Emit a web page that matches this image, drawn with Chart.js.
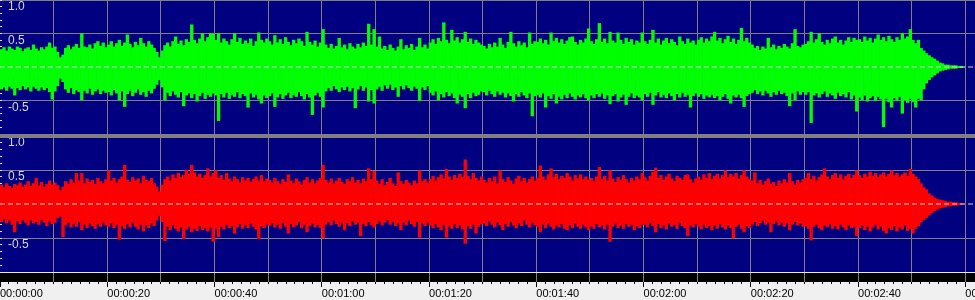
<!DOCTYPE html>
<html><head><meta charset="utf-8">
<script src="https://cdn.jsdelivr.net/npm/chart.js@4.4.1/dist/chart.umd.min.js"></script>
<style>
html,body{margin:0;padding:0;background:#f0f0f0;}
#wrap{position:relative;width:975px;height:300px;overflow:hidden;background:#f0f0f0;}
.panel{position:absolute;left:0;width:975px;background:#000080;}
#pTop{top:0;height:134px;}
#pBot{top:136px;height:136px;}
#sep{position:absolute;left:0;top:134px;width:975px;height:4px;background:#808080;}
#wline{position:absolute;left:0;top:272px;width:975px;height:1px;background:#e8e8e8;}
#pAxis{position:absolute;left:0;top:273px;width:975px;height:27px;}
canvas{display:block;}
</style></head><body>
<div id="wrap">
<div class="panel" id="pTop"><canvas id="cTop" width="975" height="134"></canvas></div>
<div class="panel" id="pBot"><canvas id="cBot" width="975" height="136"></canvas></div>
<div id="sep"></div>
<div id="wline"></div>
<div id="pAxis"><canvas id="cAxis" width="975" height="27"></canvas></div>
</div>
<script>
// ---- time axis ----
const TIME_MAX = 181.8;          // seconds shown across the view
const BIN = 0.5;                 // seconds per envelope column
const timeLabels = ['00:00:00','00:00:20','00:00:40','00:01:00','00:01:20','00:01:40','00:02:00','00:02:20','00:02:40','00:03:00'];
const ampTicks = [1, 0.5, 0, -0.5, -1];

// ---- channel 1 (green) envelope: peak max / min per 0.5 s column ----
const leftHi = [
0.26,0.29,0.24,0.30,0.27,0.25,0.30,0.28,0.23,0.27,0.29,0.25,0.33,0.27,0.24,0.29,0.26,0.30,0.36,0.28,
0.30,0.22,0.14,0.18,0.28,0.32,0.26,0.30,0.34,0.28,0.50,0.30,0.29,0.33,0.27,0.35,0.38,0.31,0.36,0.29,
0.33,0.38,0.30,0.35,0.40,0.31,0.36,0.48,0.34,0.29,0.37,0.32,0.43,0.35,0.30,0.38,0.33,0.28,0.22,0.14,
0.24,0.32,0.36,0.30,0.38,0.45,0.34,0.39,0.32,0.41,0.37,0.63,0.40,0.35,0.42,0.50,0.38,0.44,0.50,0.49,
0.40,0.50,0.36,0.42,0.38,0.33,0.41,0.50,0.37,0.43,0.34,0.39,0.35,0.42,0.31,0.38,0.51,0.40,0.36,0.42,
0.38,0.33,0.47,0.36,0.41,0.34,0.44,0.37,0.32,0.40,0.35,0.42,0.38,0.31,0.52,0.37,0.33,0.39,0.30,0.36,
0.56,0.33,0.28,0.34,0.27,0.31,0.43,0.29,0.33,0.26,0.35,0.30,0.27,0.34,0.29,0.36,0.31,0.64,0.33,0.56,
0.30,0.45,0.27,0.31,0.25,0.33,0.28,0.24,0.30,0.41,0.26,0.32,0.28,0.34,0.25,0.30,0.43,0.29,0.33,0.27,
0.36,0.41,0.34,0.43,0.38,0.66,0.40,0.35,0.55,0.39,0.44,0.36,0.41,0.52,0.37,0.42,0.34,0.40,0.36,0.33,
0.31,0.27,0.34,0.29,0.36,0.30,0.43,0.33,0.28,0.37,0.52,0.35,0.30,0.38,0.32,0.36,0.29,0.51,0.34,0.38,
0.37,0.42,0.35,0.40,0.33,0.51,0.38,0.43,0.36,0.41,0.34,0.39,0.44,0.45,0.37,0.33,0.40,0.36,0.42,0.57,
0.38,0.34,0.41,0.65,0.37,0.42,0.35,0.52,0.39,0.36,0.51,0.40,0.34,0.43,0.37,0.41,0.33,0.39,0.36,0.51,
0.38,0.34,0.40,0.55,0.36,0.42,0.33,0.39,0.43,0.35,0.41,0.37,0.32,0.45,0.38,0.34,0.42,0.36,0.39,0.33,
0.40,0.44,0.36,0.42,0.38,0.45,0.52,0.39,0.43,0.35,0.41,0.46,0.37,0.42,0.34,0.40,0.58,0.38,0.43,0.36,
0.33,0.28,0.31,0.25,0.30,0.27,0.43,0.29,0.33,0.26,0.31,0.28,0.34,0.30,0.27,0.35,0.56,0.31,0.29,0.33,
0.34,0.38,0.52,0.36,0.41,0.50,0.37,0.33,0.40,0.35,0.42,0.45,0.36,0.40,0.33,0.39,0.44,0.37,0.43,0.40,
0.41,0.37,0.45,0.39,0.43,0.36,0.42,0.48,0.40,0.44,0.38,0.46,0.41,0.37,0.44,0.40,0.50,0.42,0.45,0.56,
0.40,0.35,0.40,0.28,0.24,0.20,0.17,0.14,0.12,0.09,0.06,0.05,0.03,0.03,0.02,0.02,0.02,0.01,0.01,0.00];
const leftLo = [
-0.33,-0.30,-0.35,-0.29,-0.32,-0.42,-0.31,-0.34,-0.28,-0.33,-0.30,-0.36,-0.29,-0.32,-0.35,-0.30,-0.34,-0.31,-0.37,-0.48,
-0.36,-0.28,-0.17,-0.22,-0.33,-0.38,-0.31,-0.40,-0.34,-0.37,-0.49,-0.35,-0.39,-0.32,-0.41,-0.36,-0.33,-0.40,-0.35,-0.38,
-0.37,-0.42,-0.34,-0.39,-0.49,-0.36,-0.59,-0.40,-0.35,-0.43,-0.38,-0.33,-0.41,-0.37,-0.44,-0.35,-0.39,-0.32,-0.26,-0.19,
-0.30,-0.49,-0.38,-0.43,-0.36,-0.41,-0.45,-0.37,-0.58,-0.42,-0.39,-0.46,-0.40,-0.51,-0.43,-0.38,-0.47,-0.41,-0.44,-0.39,
-0.42,-0.80,-0.40,-0.45,-0.38,-0.47,-0.41,-0.44,-0.37,-0.46,-0.40,-0.43,-0.60,-0.39,-0.45,-0.41,-0.48,-0.54,-0.42,-0.46,
-0.43,-0.39,-0.59,-0.45,-0.40,-0.47,-0.42,-0.38,-0.46,-0.41,-0.44,-0.37,-0.43,-0.48,-0.40,-0.45,-0.71,-0.42,-0.38,-0.44,
-0.60,-0.36,-0.31,-0.35,-0.28,-0.33,-0.37,-0.30,-0.34,-0.29,-0.36,-0.31,-0.61,-0.33,-0.28,-0.35,-0.30,-0.51,-0.34,-0.54,
-0.33,-0.29,-0.35,-0.27,-0.32,-0.26,-0.34,-0.30,-0.44,-0.28,-0.33,-0.27,-0.31,-0.35,-0.29,-0.32,-0.50,-0.30,-0.34,-0.28,
-0.38,-0.42,-0.36,-0.49,-0.40,-0.45,-0.37,-0.43,-0.39,-0.46,-0.54,-0.41,-0.44,-0.61,-0.40,-0.46,-0.38,-0.43,-0.41,-0.36,
-0.37,-0.42,-0.35,-0.40,-0.44,-0.36,-0.41,-0.38,-0.45,-0.39,-0.43,-0.51,-0.40,-0.44,-0.37,-0.42,-0.46,-0.39,-0.73,-0.43,
-0.41,-0.45,-0.39,-0.60,-0.43,-0.47,-0.40,-0.54,-0.44,-0.48,-0.41,-0.46,-0.39,-0.44,-0.48,-0.42,-0.45,-0.40,-0.46,-0.49,
-0.42,-0.46,-0.40,-0.44,-0.39,-0.47,-0.42,-0.55,-0.43,-0.40,-0.51,-0.45,-0.41,-0.56,-0.44,-0.39,-0.46,-0.42,-0.45,-0.49,
-0.40,-0.44,-0.38,-0.56,-0.42,-0.37,-0.45,-0.41,-0.46,-0.39,-0.43,-0.49,-0.40,-0.45,-0.38,-0.44,-0.41,-0.60,-0.43,-0.39,
-0.44,-0.40,-0.47,-0.42,-0.45,-0.41,-0.46,-0.43,-0.49,-0.44,-0.40,-0.47,-0.54,-0.42,-0.45,-0.41,-0.46,-0.59,-0.43,-0.40,
-0.38,-0.34,-0.40,-0.36,-0.42,-0.35,-0.39,-0.44,-0.37,-0.41,-0.35,-0.40,-0.38,-0.43,-0.58,-0.39,-0.49,-0.36,-0.41,-0.37,
-0.41,-0.37,-0.83,-0.42,-0.39,-0.45,-0.40,-0.36,-0.44,-0.39,-0.42,-0.47,-0.38,-0.43,-0.40,-0.45,-0.37,-0.48,-0.42,-0.66,
-0.45,-0.49,-0.42,-0.51,-0.46,-0.43,-0.50,-0.44,-0.48,-0.89,-0.47,-0.52,-0.60,-0.46,-0.50,-0.44,-0.69,-0.49,-0.53,-0.47,
-0.52,-0.60,-0.47,-0.49,-0.33,-0.24,-0.19,-0.15,-0.12,-0.09,-0.06,-0.05,-0.04,-0.03,-0.02,-0.02,-0.02,-0.01,-0.01,0.00];

// ---- channel 2 (red) envelope ----
const rightHi = [
0.28,0.24,0.30,0.26,0.23,0.29,0.27,0.31,0.25,0.28,0.33,0.26,0.30,0.38,0.27,0.32,0.25,0.29,0.34,0.28,
0.31,0.27,0.20,0.25,0.33,0.29,0.36,0.31,0.45,0.34,0.45,0.30,0.37,0.32,0.35,0.29,0.38,0.33,0.30,0.36,
0.49,0.34,0.38,0.31,0.36,0.40,0.57,0.35,0.32,0.39,0.34,0.37,0.30,0.41,0.35,0.33,0.38,0.30,0.25,0.18,
0.28,0.36,0.40,0.34,0.43,0.38,0.45,0.39,0.42,0.50,0.44,0.57,0.46,0.40,0.44,0.38,0.42,0.52,0.40,0.45,
0.49,0.38,0.42,0.35,0.45,0.37,0.33,0.40,0.36,0.31,0.39,0.34,0.38,0.32,0.36,0.40,0.34,0.42,0.33,0.37,
0.35,0.31,0.38,0.33,0.29,0.36,0.32,0.43,0.34,0.30,0.37,0.33,0.28,0.35,0.39,0.31,0.36,0.30,0.34,0.38,
0.57,0.35,0.31,0.37,0.30,0.34,0.38,0.32,0.29,0.36,0.33,0.39,0.31,0.35,0.30,0.37,0.33,0.52,0.36,0.48,
0.34,0.29,0.36,0.27,0.32,0.38,0.30,0.26,0.46,0.33,0.29,0.35,0.31,0.27,0.34,0.30,0.49,0.33,0.36,0.31,
0.36,0.41,0.34,0.39,0.43,0.37,0.51,0.40,0.35,0.42,0.38,0.44,0.39,0.65,0.41,0.36,0.45,0.38,0.34,0.40,
0.35,0.31,0.38,0.33,0.40,0.30,0.49,0.36,0.32,0.39,0.34,0.29,0.37,0.41,0.33,0.38,0.31,0.36,0.40,0.34,
0.38,0.56,0.40,0.35,0.43,0.52,0.39,0.44,0.36,0.41,0.38,0.45,0.40,0.34,0.42,0.37,0.43,0.36,0.40,0.35,
0.38,0.33,0.40,0.54,0.36,0.41,0.34,0.49,0.37,0.32,0.39,0.35,0.42,0.36,0.31,0.38,0.34,0.40,0.36,0.45,
0.39,0.34,0.41,0.47,0.53,0.38,0.42,0.35,0.40,0.44,0.37,0.33,0.41,0.38,0.35,0.42,0.43,0.36,0.31,0.37,
0.40,0.35,0.43,0.38,0.45,0.36,0.41,0.44,0.37,0.42,0.49,0.39,0.44,0.40,0.45,0.37,0.42,0.49,0.40,0.36,
0.34,0.46,0.30,0.35,0.28,0.33,0.37,0.29,0.32,0.26,0.34,0.30,0.36,0.31,0.45,0.33,0.28,0.35,0.31,0.36,
0.38,0.45,0.36,0.41,0.34,0.39,0.43,0.52,0.40,0.36,0.42,0.45,0.38,0.43,0.36,0.41,0.44,0.38,0.42,0.49,
0.42,0.38,0.44,0.40,0.47,0.41,0.45,0.39,0.43,0.46,0.40,0.44,0.49,0.42,0.45,0.39,0.43,0.46,0.41,0.51,
0.44,0.40,0.36,0.30,0.24,0.21,0.15,0.12,0.09,0.07,0.06,0.05,0.04,0.03,0.03,0.02,0.02,0.01,0.01,0.00];
const rightLo = [
-0.26,-0.22,-0.28,-0.24,-0.30,-0.41,-0.25,-0.29,-0.23,-0.27,-0.31,-0.24,-0.28,-0.26,-0.30,-0.23,-0.27,-0.32,-0.25,-0.29,
-0.27,-0.20,-0.18,-0.48,-0.31,-0.27,-0.34,-0.29,-0.33,-0.26,-0.38,-0.30,-0.35,-0.28,-0.32,-0.36,-0.29,-0.33,-0.27,-0.31,
-0.33,-0.28,-0.35,-0.30,-0.52,-0.32,-0.36,-0.29,-0.34,-0.27,-0.33,-0.37,-0.30,-0.40,-0.31,-0.35,-0.28,-0.32,-0.24,-0.17,
-0.26,-0.54,-0.33,-0.38,-0.31,-0.36,-0.40,-0.34,-0.51,-0.37,-0.33,-0.41,-0.36,-0.39,-0.32,-0.38,-0.35,-0.40,-0.34,-0.55,
-0.36,-0.48,-0.33,-0.37,-0.30,-0.35,-0.32,-0.43,-0.34,-0.29,-0.36,-0.31,-0.35,-0.28,-0.33,-0.37,-0.51,-0.32,-0.35,-0.30,
-0.32,-0.28,-0.34,-0.30,-0.36,-0.27,-0.33,-0.43,-0.29,-0.34,-0.31,-0.26,-0.35,-0.30,-0.41,-0.32,-0.28,-0.34,-0.30,-0.35,
-0.50,-0.30,-0.26,-0.31,-0.24,-0.29,-0.33,-0.27,-0.38,-0.28,-0.32,-0.25,-0.30,-0.27,-0.47,-0.29,-0.32,-0.26,-0.31,-0.34,
-0.29,-0.25,-0.31,-0.27,-0.23,-0.30,-0.26,-0.32,-0.28,-0.38,-0.27,-0.31,-0.24,-0.29,-0.33,-0.26,-0.49,-0.28,-0.32,-0.27,
-0.31,-0.35,-0.29,-0.34,-0.38,-0.30,-0.49,-0.33,-0.36,-0.29,-0.35,-0.31,-0.37,-0.58,-0.32,-0.36,-0.30,-0.43,-0.33,-0.29,
-0.28,-0.32,-0.25,-0.30,-0.34,-0.27,-0.31,-0.38,-0.29,-0.33,-0.26,-0.31,-0.35,-0.28,-0.32,-0.24,-0.30,-0.34,-0.27,-0.31,
-0.33,-0.41,-0.30,-0.35,-0.28,-0.33,-0.37,-0.31,-0.34,-0.29,-0.36,-0.38,-0.31,-0.35,-0.28,-0.33,-0.36,-0.30,-0.34,-0.38,
-0.32,-0.36,-0.29,-0.34,-0.31,-0.37,-0.30,-0.55,-0.33,-0.28,-0.35,-0.31,-0.36,-0.29,-0.33,-0.30,-0.38,-0.32,-0.35,-0.30,
-0.30,-0.34,-0.27,-0.32,-0.41,-0.29,-0.35,-0.31,-0.37,-0.28,-0.33,-0.30,-0.36,-0.27,-0.32,-0.35,-0.47,-0.31,-0.34,-0.29,
-0.33,-0.37,-0.30,-0.35,-0.32,-0.38,-0.31,-0.36,-0.29,-0.34,-0.37,-0.31,-0.35,-0.50,-0.33,-0.30,-0.36,-0.41,-0.32,-0.35,
-0.30,-0.26,-0.32,-0.28,-0.24,-0.30,-0.27,-0.41,-0.29,-0.25,-0.31,-0.27,-0.33,-0.28,-0.38,-0.30,-0.26,-0.31,-0.28,-0.33,
-0.32,-0.36,-0.53,-0.33,-0.30,-0.35,-0.38,-0.31,-0.34,-0.29,-0.36,-0.32,-0.37,-0.30,-0.34,-0.38,-0.31,-0.35,-0.33,-0.47,
-0.35,-0.31,-0.38,-0.33,-0.40,-0.34,-0.30,-0.37,-0.33,-0.39,-0.43,-0.35,-0.38,-0.32,-0.40,-0.34,-0.37,-0.31,-0.39,-0.36,
-0.43,-0.36,-0.32,-0.27,-0.23,-0.20,-0.16,-0.13,-0.10,-0.08,-0.06,-0.05,-0.04,-0.03,-0.03,-0.02,-0.02,-0.01,-0.01,0.00];

// ---- helpers ----
const gridTicks = [];            // 10 s grid
for (let s = 10; s <= 180; s += 10) gridTicks.push(s);
const rulerTicks = [];           // ruler marks, 12 per 20 s
for (let k = 0; k <= 108; k++) rulerTicks.push(k * 20 / 12);
const dotTicks = [];             // small amplitude marks every 0.1
for (let k = -10; k <= 10; k++) dotTicks.push(k / 10);

const GRID = '#808080';
const NONE = 'rgba(0,0,0,0)';

function waveChart(id, hi, lo, color) {
  const cols = hi.map((h, i) => ({ x: i * BIN + BIN / 2, y: [lo[i], h] }));
  return new Chart(document.getElementById(id), {
    type: 'bar',
    data: { datasets: [
      { type: 'line', data: [{x: 0, y: 0}, {x: TIME_MAX, y: 0}], borderColor: '#d4d4d4',
        borderWidth: 1, borderDash: [5, 3], pointRadius: 0, order: 0 },
      { type: 'bar', data: cols, backgroundColor: color, borderWidth: 0,
        barPercentage: 1, categoryPercentage: 1, order: 1 }
    ]},
    options: {
      responsive: false, animation: false, devicePixelRatio: 1,
      layout: { padding: 0 },
      plugins: { legend: { display: false }, tooltip: { enabled: false } },
      scales: {
        x: { type: 'linear', min: 0, max: TIME_MAX, offset: false, z: 1,
             grid: { offset: false, color: GRID, lineWidth: 1, drawTicks: false },
             border: { display: false },
             ticks: { display: false },
             afterBuildTicks: s => { s.ticks = gridTicks.map(v => ({ value: v })); },
             afterFit: s => { s.height = 0; s.paddingLeft = 0; s.paddingRight = 0; s.paddingTop = 0; s.paddingBottom = 0; } },
        y: { type: 'linear', min: -1, max: 1, z: 1,
             grid: { drawTicks: false, lineWidth: 1,
                     color: c => (c.tick && (c.tick.value === 0.5 || c.tick.value === -0.5 || c.tick.value === 1)) ? GRID : NONE },
             border: { display: false },
             ticks: { mirror: true, padding: 8, labelOffset: 7, color: '#d8d8d8',
                      font: { family: '"Liberation Sans", Arial, sans-serif', size: 12 },
                      callback: v => v === -1 ? '' : Number(v).toFixed(1) },
             afterBuildTicks: s => { s.ticks = ampTicks.map(v => ({ value: v })); },
             afterFit: s => { s.width = 0; s.paddingTop = 0; s.paddingBottom = 0; s.paddingLeft = 0; s.paddingRight = 0; } },
        yDots: { type: 'linear', position: 'left', min: -1, max: 1, z: 1,
             grid: { drawOnChartArea: false, drawTicks: true, tickLength: -2, tickColor: '#e0e0e0', tickWidth: 1 },
             border: { display: false },
             ticks: { display: false },
             afterBuildTicks: s => { s.ticks = dotTicks.map(v => ({ value: v })); },
             afterFit: s => { s.width = 0; s.paddingTop = 0; s.paddingBottom = 0; s.paddingLeft = 0; s.paddingRight = 0; } }
      }
    }
  });
}

waveChart('cTop', leftHi, leftLo, '#00ff00');
waveChart('cBot', rightHi, rightLo, '#ff0000');

new Chart(document.getElementById('cAxis'), {
  type: 'line',
  data: { datasets: [] },
  options: {
    responsive: false, animation: false, devicePixelRatio: 1,
    layout: { padding: 0 },
    plugins: { legend: { display: false }, tooltip: { enabled: false } },
    scales: {
      x: { type: 'linear', min: 0, max: TIME_MAX, offset: false, position: 'bottom',
           grid: { offset: false, lineWidth: 1,
                   color: c => (c.index > 0 && c.index % 6 === 0) ? GRID : NONE,
                   drawTicks: true, tickLength: 5, tickColor: '#000000', tickWidth: 1,
                   tickBorderDash: c => (c.index % 12 === 0) ? [] : [2, 10] },
           border: { display: false },
           ticks: { autoSkip: false, maxRotation: 0, minRotation: 0, align: 'start', padding: 0,
                    color: '#000000', font: { family: '"Liberation Sans", Arial, sans-serif', size: 11 },
                    callback: (v, i) => (i % 12 === 0) ? timeLabels[i / 12] : '' },
           afterBuildTicks: s => { s.ticks = rulerTicks.map(v => ({ value: v })); },
           afterFit: s => { s.height = 18; s.paddingLeft = 0; s.paddingRight = 0; } },
      y: { display: false }
    }
  },
  plugins: [{ id: 'stripBg', beforeDraw(ch) {
    const a = ch.chartArea, ctx = ch.ctx;
    ctx.save(); ctx.fillStyle = '#000000';
    ctx.fillRect(a.left, a.top, a.right - a.left, a.bottom - a.top);
    ctx.restore();
  } }]
});
</script>
</body></html>
